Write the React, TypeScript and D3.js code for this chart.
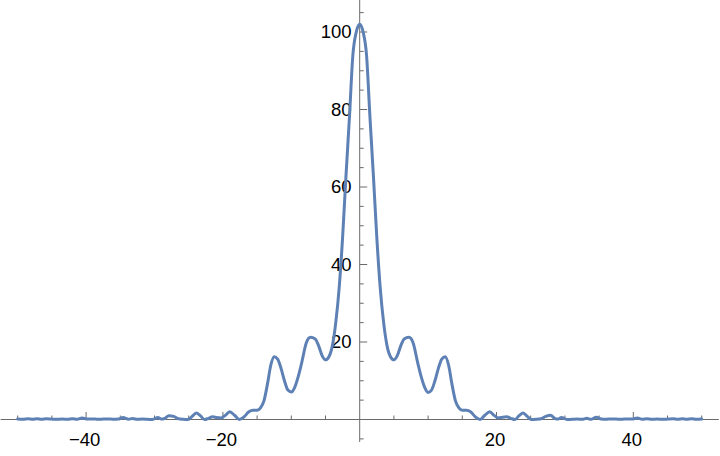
import React from "react";
import * as d3 from "d3";

// Curve samples (x, y)
const xs: number[] = [
  -50, -49.2, -48.5, -47.8, -47.2, -46.5, -45.8, -45, -44.3, -43.5, -42.7, -42, -41.3, -40.6, -39.8, -39, -38.3, -37.5, -36.8, -36, -35.3, -34.6, -33.8, -33.2, -32.5, -31.8, -31, -30.3,
  -29.5, -29, -28.5, -27.9, -27.2, -26.5, -25.8, -25.1, -24.5, -23.9, -23.3, -22.7, -22.1, -21.5, -20.9, -20.3, -19.7, -19, -18.3, -17.6, -16.9, -16.2, -15.6, -15, -14.5, -14, -13.5, -13, -12.5,
  -12, -11.5, -11, -10.5, -10, -9.5, -9, -8.5, -7.8, -7.2, -6.5, -6, -5.5, -5, -4.5, -4, -3.5, -3, -2.5, -2, -1.5, -1, -0.5,
  0,
  0.5, 1, 1.5, 2, 2.5, 3, 3.5, 4, 4.5, 5, 5.5, 6, 6.5, 7.2, 7.8, 8.5, 9, 9.5, 10, 10.5, 11, 11.5, 12,
  12.5, 13, 13.5, 14, 14.5, 15, 15.6, 16.2, 16.9, 17.6, 18.3, 19, 19.7, 20.3, 20.9, 21.5, 22.1, 22.7, 23.3, 23.9, 24.5, 25.1, 25.8, 26.5, 27.2, 27.9, 28.5, 29, 29.5,
  30.3, 31, 31.8, 32.5, 33.2, 33.8, 34.6, 35.3, 36, 36.8, 37.5, 38.3, 39, 39.8, 40.6, 41.3, 42, 42.7, 43.5, 44.3, 45, 45.8, 46.5, 47.2, 47.8, 48.5, 49.2, 50,
];
const ys: number[] = [
  0.1, 0.05, 0.2, 0.05, 0.2, 0.05, 0.2, 0.1, 0.05, 0.1, 0.05, 0.2, 0.05, 0.4, 0.1, 0.15, 0.05, 0.1, 0.15, 0.05, 0.1, 0.5, 0.05, 0.25, 0.05, 0.1, 0.05, 0,
  0.5, 0.1, 0.3, 1.0, 0.8, 0.2, 0.05, 0, 0.8, 1.7, 1.0, 0, 0.3, 0.7, 0.5, 0.4, 1.0, 2.0, 1.1, 0, 0.7, 2.0, 2.4, 2.4, 3.0, 4.8, 9, 14, 16.2,
  15.6, 13.2, 10, 7.6, 7.1, 8.3, 11, 14.5, 19.8, 21.2, 20.8, 19.0, 16.5, 15.4, 16.2, 19, 25, 34, 47, 63, 78, 94, 100,
  102,
  100, 94, 78, 63, 47, 34, 25, 19, 16.2, 15.4, 16.5, 19.0, 20.8, 21.2, 19.8, 14.5, 11, 8.3, 7.0, 7.6, 10, 13.2, 15.6,
  16.2, 14, 9, 4.8, 3.0, 2.4, 2.4, 2.0, 0.7, 0, 1.1, 2.0, 1.0, 0.4, 0.6, 0.7, 0.3, 0, 1.0, 1.7, 0.8, 0, 0.05, 0.2, 0.8, 1.1, 0.3, 0.1, 0.5,
  0, 0.05, 0.1, 0.05, 0.3, 0.05, 0.6, 0.1, 0.05, 0.15, 0.1, 0.05, 0.15, 0.1, 0.4, 0.05, 0.2, 0.05, 0.1, 0.05, 0.1, 0.2, 0.05, 0.2, 0.05, 0.2, 0.05, 0.1,
];

const xMajor: number[] = [-40, -20, 20, 40];
const yMajor: number[] = [20, 40, 60, 80, 100];
const xMinor: number[] = [-50, -45, -35, -30, -25, -15, -10, -5, 5, 10, 15, 25, 30, 35, 45, 50];
const yMinor: number[] = [-5, 5, 10, 15, 25, 30, 35, 45, 50, 55, 65, 70, 75, 85, 90, 95, 105];

const fmt = (v: number) => (v < 0 ? "\u2212" + Math.abs(v) : String(v));

export default function App() {
  const W = 720, H = 456;
  const x = d3.scaleLinear().domain([-50, 50]).range([17.7, 701.7]);
  const y = d3.scaleLinear().domain([0, 100]).range([419.5, 32]);
  const data = xs.map((v, i) => [v, ys[i]] as [number, number]);
  const line = d3
    .line<[number, number]>()
    .x((d) => x(d[0]))
    .y((d) => y(d[1]))
    .curve(d3.curveMonotoneX);
  const axisColor = "#6a6a6a";
  const font = "'Liberation Sans', Arial, Helvetica, sans-serif";
  return (
    <svg
      width={W}
      height={H}
      style={{ position: "absolute", left: 0, top: 0, background: "#fff" }}
    >
      {/* x axis */}
      <line x1={x(-52.5)} x2={x(52.5)} y1={y(0)} y2={y(0)} stroke={axisColor} strokeWidth={1} />
      {/* y axis */}
      <line x1={x(0)} x2={x(0)} y1={y(-5.8)} y2={y(108.3)} stroke={axisColor} strokeWidth={1} />
      {xMinor.map((t) => (
        <line key={"xm" + t} x1={x(t)} x2={x(t)} y1={y(0)} y2={y(0) - 4} stroke={axisColor} strokeWidth={1} />
      ))}
      {xMajor.map((t) => (
        <g key={"xM" + t}>
          <line x1={x(t)} x2={x(t)} y1={y(0)} y2={y(0) - 7.5} stroke={axisColor} strokeWidth={1} />
          <text x={x(t) - 1.5} y={446} textAnchor="middle" fontSize={18.5} fontFamily={font} fill="#000">
            {fmt(t)}
          </text>
        </g>
      ))}
      {yMinor.map((t) => (
        <line key={"ym" + t} x1={x(0)} x2={x(0) + 4} y1={y(t)} y2={y(t)} stroke={axisColor} strokeWidth={1} />
      ))}
      {yMajor.map((t) => (
        <g key={"yM" + t}>
          <line x1={x(0)} x2={x(0) + 7.5} y1={y(t)} y2={y(t)} stroke={axisColor} strokeWidth={1} />
          <text x={351.5} y={y(t)} dy="0.35em" textAnchor="end" fontSize={18.5} fontFamily={font} fill="#000">
            {fmt(t)}
          </text>
        </g>
      ))}
      <path d={line(data) || ""} fill="none" stroke="#5E81B5" strokeWidth={3} strokeLinejoin="round" strokeLinecap="round" />
    </svg>
  );
}
